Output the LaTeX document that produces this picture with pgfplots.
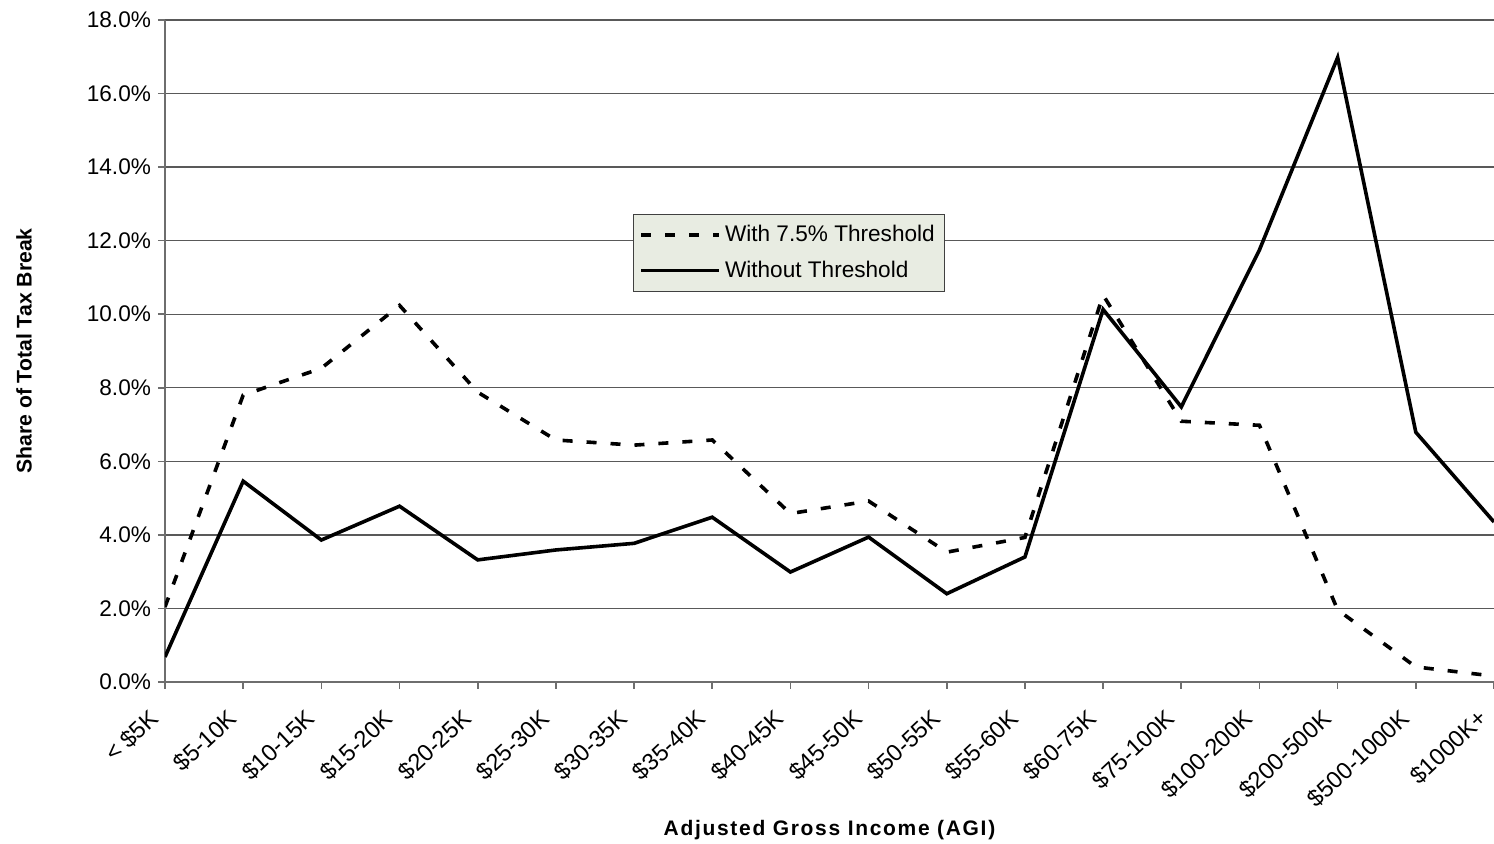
\documentclass[border=0pt]{standalone}
\usepackage{fontspec}
\setmainfont{Liberation Sans}
\usepackage{pgfplots}
\pgfplotsset{compat=1.18}

\definecolor{legendbg}{RGB}{232,236,226}
\definecolor{axisgray}{RGB}{110,110,110}
\newcommand{\ticksize}{\fontsize{11.3}{13.5}\selectfont}

\begin{document}
\begin{tikzpicture}
\begin{axis}[
  scale only axis,
  width=664.5pt, height=331pt,
  xmin=0, xmax=17,
  ymin=0, ymax=18,
  axis lines=left,
  axis line style={-, axisgray, line width=0.9pt},
  xtick={0,...,17},
  xticklabels={< \$5K, \$5-10K, \$10-15K, \$15-20K, \$20-25K, \$25-30K,
    \$30-35K, \$35-40K, \$40-45K, \$45-50K, \$50-55K, \$55-60K, \$60-75K,
    \$75-100K, \$100-200K, \$200-500K, \$500-1000K, \$1000K+},
  ytick={0,2,...,18},
  yticklabel={\pgfmathprintnumber[fixed,fixed zerofill,precision=1]{\tick}\%},
  /pgf/number format/assume math mode=true,
  tick align=outside,
  major tick length=3.5pt,
  tick style={axisgray, line width=0.8pt},
  ymajorgrids,
  grid style={black!65, line width=0.7pt},
  x tick label style={font=\fontsize{11.8}{13.5}\selectfont, rotate=43, anchor=east, xshift=-9pt, yshift=-5.8pt},
  y tick label style={font=\ticksize},
  xlabel={\addfontfeature{LetterSpace=8}Adjusted Gross Income (AGI)},
  ylabel={Share of Total Tax Break},
  xlabel style={font=\bfseries\fontsize{10.5}{12}\selectfont, at={(axis description cs:0.5,-0.2236)}, anchor=center},
  ylabel style={font=\bfseries\fontsize{10.6}{12}\selectfont, at={(axis description cs:-0.106,0.5)}, anchor=center},
  legend style={at={(axis description cs:0.352,0.707)}, anchor=north west,
    fill=legendbg, draw=black!75, line width=0.6pt, font=\ticksize,
    inner xsep=3pt, inner ysep=3.5pt, row sep=4pt},
  legend cell align=left,
  legend image code/.code={\draw[#1] (0pt,0pt) -- (39pt,0pt);},
]
% share of the tax break with the 7.5% AGI floor
\addplot[black, line width=1.8pt, dash pattern=on 5pt off 7pt] coordinates {
  (0,2.04) (1,7.80) (2,8.53) (3,10.24) (4,7.88) (5,6.58) (6,6.44) (7,6.58)
  (8,4.58) (9,4.92) (10,3.53) (11,3.93) (12,10.52) (13,7.09) (14,6.98)
  (15,1.96) (16,0.41) (17,0.16)};
\addlegendentry{With 7.5\% Threshold}
% share of the tax break with no floor
\addplot[black, line width=1.8pt] coordinates {
  (0,0.68) (1,5.46) (2,3.86) (3,4.78) (4,3.32) (5,3.59) (6,3.77) (7,4.48)
  (8,2.99) (9,3.94) (10,2.40) (11,3.40) (12,10.13) (13,7.48) (14,11.75)
  (15,16.98) (16,6.79) (17,4.35)};
\addlegendentry{Without Threshold}
\coordinate (bl) at (rel axis cs:0,0);
\coordinate (tr) at (rel axis cs:1,1);
\end{axis}
\pgfresetboundingbox
\path[use as bounding box] ([xshift=-82.5pt,yshift=-81pt]bl) rectangle ([yshift=10pt]tr);
\end{tikzpicture}
\end{document}
